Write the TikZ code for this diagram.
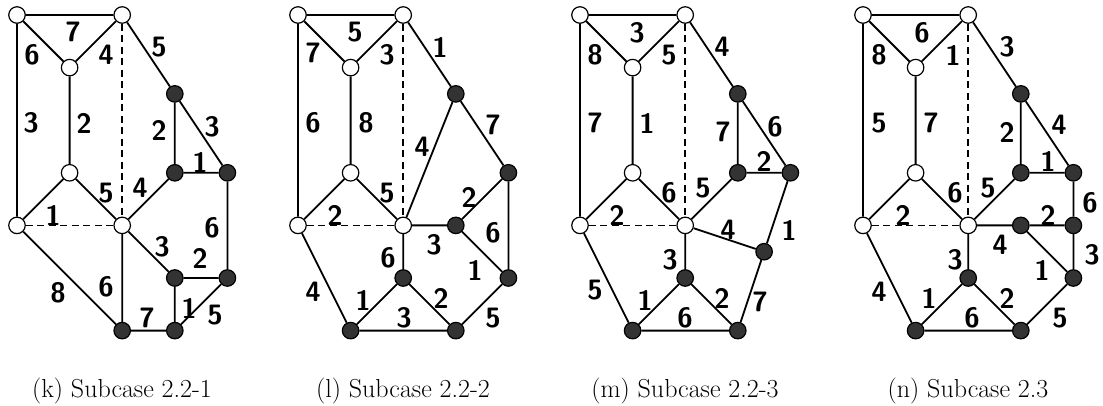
\documentclass[tikz,border=0pt]{standalone}
\begin{document}
\begin{tikzpicture}[x=1pt,y=-1pt,
  wn/.style={circle,draw,fill=white,minimum size=16.5pt,inner sep=0pt,line width=1.2pt},
  bn/.style={circle,draw,fill=black!80,minimum size=16.5pt,inner sep=0pt,line width=1.2pt},
  ed/.style={line width=1.8pt},
  dsh/.style={line width=1.6pt,dash pattern=on 7pt off 4.5pt},
  lab/.style={font=\fontsize{28}{28}\selectfont\sffamily\bfseries,inner sep=0pt},
  captxt/.style={font=\fontsize{26}{26}\selectfont\rmfamily,inner sep=0pt,anchor=base}]
\useasboundingbox (0,0) rectangle (1103,406);

% ---------------- panel k ----------------
\begin{scope}[shift={(17,15)},x=52.6pt,y=-52.6pt]
\node[wn] (kTL) at (0,0) {};
\node[wn] (kTR) at (2,0) {};
\node[wn] (kY) at (1,1) {};
\node[wn] (kM) at (1,3) {};
\node[wn] (kL) at (0,4) {};
\node[wn] (kC) at (2,4) {};
\node[bn] (kA) at (3,1.5) {};
\node[bn] (kB) at (3,3) {};
\node[bn] (kD) at (4,3) {};
\node[bn] (kE) at (3,5) {};
\node[bn] (kF) at (4,5) {};
\node[bn] (kG) at (2,6) {};
\node[bn] (kH) at (3,6) {};
\end{scope}
\draw[ed] (kTL)--(kTR) (kTL)--(kY) (kY)--(kTR) (kTL)--(kL) (kY)--(kM) (kM)--(kL) (kM)--(kC);
\draw[dsh] (kL)--(kC) (kTR)--(kC);
\draw[ed] (kTR)--(kA) (kA)--(kB) (kA)--(kD) (kB)--(kD) (kC)--(kB) (kD)--(kF) (kC)--(kE)
  (kE)--(kF) (kE)--(kH) (kF)--(kH) (kC)--(kG) (kG)--(kH) (kL)--(kG);
\node[lab] (k1) at (73,32) {7};
\node[lab] (k2) at (32,55) {6};
\node[lab] (k3) at (106,55) {4};
\node[lab] (k4) at (159,47) {5};
\node[lab] (k5) at (31,123) {3};
\node[lab] (k6) at (84,123) {2};
\node[lab] (k7) at (159,130) {2};
\node[lab] (k8) at (212,127) {3};
\node[lab] (k9) at (200,162) {1};
\node[lab] (k10) at (106,193) {5};
\node[lab] (k11) at (140,188) {4};
\node[lab] (k12) at (53,215) {1};
\node[lab] (k13) at (212,228) {6};
\node[lab] (k14) at (162,247) {3};
\node[lab] (k15) at (200,258) {2};
\node[lab] (k16) at (58,293) {8};
\node[lab] (k17) at (106,287) {6};
\node[lab] (k18) at (189,308) {1};
\node[lab] (k19) at (215,315) {5};
\node[lab] (k20) at (147,318) {7};
\node[captxt] (kcap) at (122,397) {(k) Subcase 2.2-1};

% ---------------- panel l ----------------
\begin{scope}[shift={(298,15)},x=52.6pt,y=-52.6pt]
\node[wn] (lTL) at (0,0) {};
\node[wn] (lTR) at (2,0) {};
\node[wn] (lY) at (1,1) {};
\node[wn] (lM) at (1,3) {};
\node[wn] (lL) at (0,4) {};
\node[wn] (lC) at (2,4) {};
\node[bn] (lA) at (3,1.5) {};
\node[bn] (lD) at (4,3) {};
\node[bn] (lP) at (3,4) {};
\node[bn] (lF) at (4,5) {};
\node[bn] (lQ) at (2,5) {};
\node[bn] (lR) at (1,6) {};
\node[bn] (lH) at (3,6) {};
\end{scope}
\draw[ed] (lTL)--(lTR) (lTL)--(lY) (lY)--(lTR) (lTL)--(lL) (lY)--(lM) (lM)--(lL) (lM)--(lC);
\draw[dsh] (lL)--(lC) (lTR)--(lC);
\draw[ed] (lTR)--(lA) (lA)--(lD) (lC)--(lA) (lD)--(lP) (lD)--(lF) (lC)--(lP) (lP)--(lF)
  (lF)--(lH) (lC)--(lQ) (lQ)--(lR) (lQ)--(lH) (lR)--(lH) (lL)--(lR);
\node[lab] (l1) at (355,32) {5};
\node[lab] (l2) at (313,53) {7};
\node[lab] (l3) at (387,55) {3};
\node[lab] (l4) at (440,47) {1};
\node[lab] (l5) at (313,123) {6};
\node[lab] (l6) at (366,123) {8};
\node[lab] (l7) at (422,147) {4};
\node[lab] (l8) at (493,125) {7};
\node[lab] (l9) at (469,197) {2};
\node[lab] (l10) at (387,193) {5};
\node[lab] (l11) at (335,215) {2};
\node[lab] (l12) at (493,233) {6};
\node[lab] (l13) at (434,245) {3};
\node[lab] (l14) at (388,258) {6};
\node[lab] (l15) at (475,270) {1};
\node[lab] (l16) at (313,292) {4};
\node[lab] (l17) at (363,300) {1};
\node[lab] (l18) at (441,298) {2};
\node[lab] (l19) at (404,318) {3};
\node[lab] (l20) at (493,318) {5};
\node[captxt] (lcap) at (403,397) {(l) Subcase 2.2-2};

% ---------------- panel m ----------------
\begin{scope}[shift={(580,15)},x=52.6pt,y=-52.6pt]
\node[wn] (mTL) at (0,0) {};
\node[wn] (mTR) at (2,0) {};
\node[wn] (mY) at (1,1) {};
\node[wn] (mM) at (1,3) {};
\node[wn] (mL) at (0,4) {};
\node[wn] (mC) at (2,4) {};
\node[bn] (mA) at (3,1.5) {};
\node[bn] (mB) at (3,3) {};
\node[bn] (mD) at (4,3) {};
\node[bn] (mS) at (3.5,4.5) {};
\node[bn] (mQ) at (2,5) {};
\node[bn] (mR) at (1,6) {};
\node[bn] (mH) at (3,6) {};
\end{scope}
\draw[ed] (mTL)--(mTR) (mTL)--(mY) (mY)--(mTR) (mTL)--(mL) (mY)--(mM) (mM)--(mL) (mM)--(mC);
\draw[dsh] (mL)--(mC) (mTR)--(mC);
\draw[ed] (mTR)--(mA) (mA)--(mB) (mA)--(mD) (mB)--(mD) (mC)--(mB) (mC)--(mS) (mD)--(mS)
  (mS)--(mH) (mC)--(mQ) (mQ)--(mR) (mQ)--(mH) (mR)--(mH) (mL)--(mR);
\node[lab] (m1) at (637,33) {3};
\node[lab] (m2) at (595,55) {8};
\node[lab] (m3) at (669,55) {5};
\node[lab] (m4) at (722,47) {4};
\node[lab] (m5) at (595,123) {7};
\node[lab] (m6) at (647,123) {1};
\node[lab] (m7) at (723,132) {7};
\node[lab] (m8) at (775,127) {6};
\node[lab] (m9) at (764,161) {2};
\node[lab] (m10) at (669,193) {6};
\node[lab] (m11) at (703,188) {5};
\node[lab] (m12) at (617,215) {2};
\node[lab] (m13) at (728,230) {4};
\node[lab] (m14) at (789,230) {1};
\node[lab] (m15) at (670,260) {3};
\node[lab] (m16) at (595,290) {5};
\node[lab] (m17) at (645,300) {1};
\node[lab] (m18) at (722,298) {2};
\node[lab] (m19) at (760,302) {7};
\node[lab] (m20) at (685,318) {6};
\node[captxt] (mcap) at (685,397) {(m) Subcase 2.2-3};

% ---------------- panel n ----------------
\begin{scope}[shift={(863,15)},x=52.6pt,y=-52.6pt]
\node[wn] (nTL) at (0,0) {};
\node[wn] (nTR) at (2,0) {};
\node[wn] (nY) at (1,1) {};
\node[wn] (nM) at (1,3) {};
\node[wn] (nL) at (0,4) {};
\node[wn] (nC) at (2,4) {};
\node[bn] (nA) at (3,1.5) {};
\node[bn] (nB) at (3,3) {};
\node[bn] (nD) at (4,3) {};
\node[bn] (nP) at (3,4) {};
\node[bn] (nW) at (4,4) {};
\node[bn] (nF) at (4,5) {};
\node[bn] (nQ) at (2,5) {};
\node[bn] (nR) at (1,6) {};
\node[bn] (nH) at (3,6) {};
\end{scope}
\draw[ed] (nTL)--(nTR) (nTL)--(nY) (nY)--(nTR) (nTL)--(nL) (nY)--(nM) (nM)--(nL) (nM)--(nC);
\draw[dsh] (nL)--(nC) (nTR)--(nC);
\draw[ed] (nTR)--(nA) (nA)--(nB) (nA)--(nD) (nB)--(nD) (nC)--(nB) (nD)--(nW) (nC)--(nP)
  (nP)--(nW) (nW)--(nF) (nP)--(nF) (nF)--(nH) (nC)--(nQ) (nQ)--(nR) (nQ)--(nH) (nR)--(nH) (nL)--(nR);
\node[lab] (n1) at (922,33) {6};
\node[lab] (n2) at (879,55) {8};
\node[lab] (n3) at (953,55) {1};
\node[lab] (n4) at (1007,47) {3};
\node[lab] (n5) at (879,123) {5};
\node[lab] (n6) at (931,123) {7};
\node[lab] (n7) at (1007,132) {2};
\node[lab] (n8) at (1059,125) {4};
\node[lab] (n9) at (1048,161) {1};
\node[lab] (n10) at (955,193) {6};
\node[lab] (n11) at (988,188) {5};
\node[lab] (n12) at (1090,203) {6};
\node[lab] (n13) at (903,215) {2};
\node[lab] (n14) at (1048,215) {2};
\node[lab] (n15) at (1000,245) {4};
\node[lab] (n16) at (1092,255) {3};
\node[lab] (n17) at (1042,270) {1};
\node[lab] (n18) at (955,260) {3};
\node[lab] (n19) at (879,292) {4};
\node[lab] (n20) at (929,298) {1};
\node[lab] (n21) at (1007,298) {2};
\node[lab] (n22) at (972,318) {6};
\node[lab] (n23) at (1060,318) {5};
\node[captxt] (ncap) at (968,397) {(n) Subcase 2.3};
\end{tikzpicture}
\end{document}
